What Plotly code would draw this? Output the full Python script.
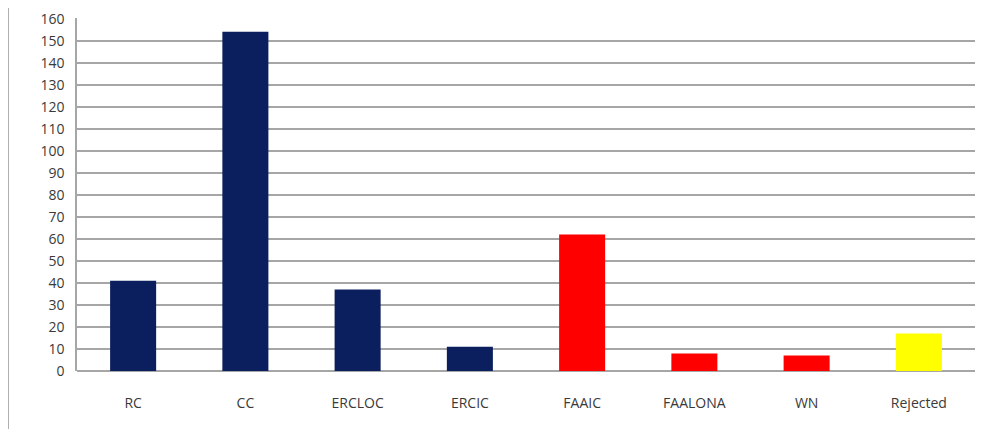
import plotly.graph_objects as go

categories = ["RC", "CC", "ERCLOC", "ERCIC", "FAAIC", "FAALONA", "WN", "Rejected"]
values = [41, 154, 37, 11, 62, 8, 7, 17]
colors = ["#0b1f5e", "#0b1f5e", "#0b1f5e", "#0b1f5e", "#ff0000", "#ff0000", "#ff0000", "#ffff00"]
y_ticks = list(range(0, 161, 10))

fig = go.Figure(go.Bar(x=categories, y=values, marker=dict(color=colors, line=dict(width=0)),
                       width=0.41))

fig.update_layout(
    width=987, height=429,
    margin=dict(l=69, r=20, t=10, b=66),
    paper_bgcolor="white", plot_bgcolor="white",
    font=dict(family="Open Sans", size=14, color="#3a3a3a"),
    showlegend=False,
    xaxis=dict(showline=False, ticks="", showgrid=False, tickfont=dict(size=14),
               range=[-0.5, 7.5], ticklabelstandoff=22, automargin=False),
    yaxis=dict(range=[0, 160.3], tickvals=y_ticks, showgrid=True, gridcolor="#a6a6a6",
               gridwidth=1.5, showline=True, linecolor="#a6a6a6", linewidth=1.5,
               zeroline=True, zerolinecolor="#a6a6a6", zerolinewidth=1.5,
               ticks="", ticklabelstandoff=8, tickfont=dict(size=14),
               ticklabeloverflow="allow", automargin=False),
    shapes=[dict(type="line", xref="paper", yref="paper", x0=-0.0768, x1=-0.0768, y0=-0.3, y1=1.1,
                 line=dict(color="#999999", width=1.5))],
)

fig.write_html("out.html")
